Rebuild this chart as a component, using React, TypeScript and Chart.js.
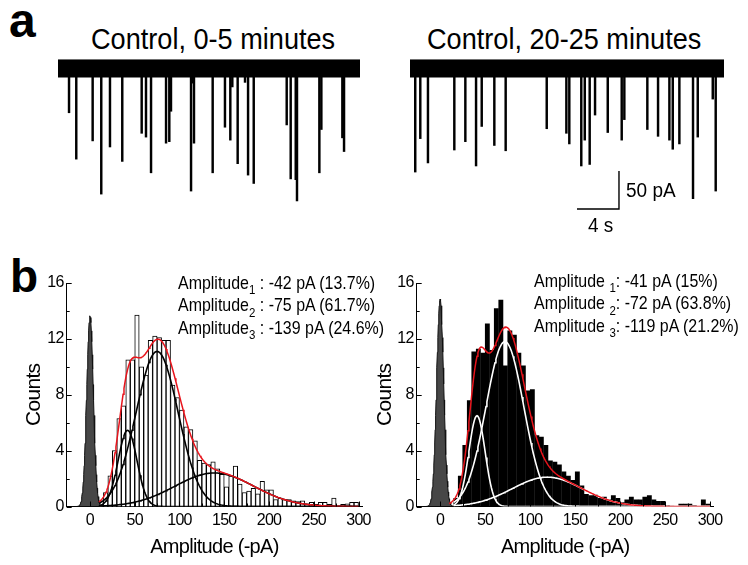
import React, { useEffect, useRef } from "react";
import { Chart, registerables } from "chart.js";

Chart.register(...registerables);

const FONT = '"Liberation Sans", Arial, Helvetica, sans-serif';

// ---------------- Panel a : current traces ----------------
const TRACE_TITLES = ["Control, 0-5 minutes", "Control, 20-25 minutes"];
const TRACE_DURATIONS_S = [28.76, 29.9];
const NOISE_BAND_PA = 11.5;

const TRACE1_EVENT_T = [1.05, 1.74, 3.3, 4.12, 4.95, 6.12, 7.97, 8.38, 8.86, 10.29, 10.6, 10.76, 12.67, 12.8, 12.95, 14.73, 15.9, 16.41, 16.6, 17.11, 17.81, 18.1, 18.64, 21.78, 22.16, 22.64, 22.76, 24.89, 25.08, 27.08, 27.24];
const TRACE1_EVENT_PA = [-58, -119, -95, -165, -103, -122, -85, -90, -137, -98, -96, -56, -161, -19, -98, -137, -77, -94, -24, -125, -18, -140, -151, -74, -145, -146, -174, -137, -80, -91, -109];

const TRACE2_EVENT_T = [0.5, 0.98, 1.71, 4.22, 5.27, 6.29, 6.83, 8.03, 9.11, 13.02, 14.89, 15.17, 16.31, 16.64, 17.11, 17.62, 18.83, 20.16, 20.41, 22.6, 23.62, 24.7, 25.02, 25.65, 26.95, 27.4, 28.83, 29.11];
const TRACE2_EVENT_PA = [-136, -92, -124, -107, -96, -128, -76, -101, -108, -79, -85, -99, -128, -94, -126, -61, -84, -94, -67, -80, -89, -94, -106, -99, -171, -90, -40, -161];

// scale bar: 4 s horizontal, 50 pA vertical (drawn in the right trace)
const SCALE_BAR_T = [15.9, 19.9];
const SCALE_BAR_PA = [-184.6, -134.6];

// ---------------- Panel b : amplitude histograms ----------------
const BIN_WIDTH_PA = 5;
const BIN_STARTS_PA = [10, 15, 20, 25, 30, 35, 40, 45, 50, 55, 60, 65, 70, 75, 80, 85, 90, 95, 100, 105, 110, 115, 120, 125, 130, 135, 140, 145, 150, 155, 160, 165, 170, 175, 180, 185, 190, 195, 200, 205, 210, 215, 220, 225, 230, 235, 240, 245, 250, 255, 260, 265, 270, 275, 280, 285, 290, 295];
const HIST1_COUNTS = [0.4, 1.0, 2.2, 4.0, 6.3, 7.2, 10.5, 10.5, 13.7, 10.0, 9.4, 11.9, 12.2, 12.1, 11.9, 11.9, 8.7, 7.8, 6.9, 5.7, 5.5, 4.7, 3.3, 3.1, 3.0, 3.2, 2.7, 2.3, 1.4, 2.2, 2.9, 1.6, 1.0, 1.1, 1.3, 0.9, 1.8, 1.2, 1.2, 0.5, 0.6, 0.5, 0.5, 0.4, 0.35, 0.4, 0.2, 0.3, 0.15, 0.3, 0.3, 0.15, 0.6, 0, 0.15, 0.2, 0.3, 0.3];
const HIST2_COUNTS = [0, 0.6, 2.2, 4.4, 7.6, 11.1, 11.3, 11.0, 13.1, 11.2, 14.2, 14.8, 10.1, 12.6, 12.3, 11.0, 10.1, 8.3, 8.4, 5.1, 5.0, 4.4, 3.3, 3.2, 3.0, 2.5, 2.2, 1.9, 2.5, 1.5, 0.9, 0.8, 0.85, 0.6, 0.7, 0.5, 0.8, 0.6, 0.3, 0.5, 0.7, 0.5, 0.5, 0.7, 0.8, 0.5, 0.4, 0.4, 0.1, 0.05, 0, 0.2, 0.2, 0.2, 0.1, 0, 0.5, 0.2];

// three-Gaussian fit parameters (mean pA, peak height, width pA)
const FIT1_MEANS = [42, 75, 139];
const FIT1_HEIGHTS = [5.45, 11.1, 2.4];
const FIT1_SIGMAS = [10.5, 23.5, 44];
const FIT2_MEANS = [41, 72, 119];
const FIT2_HEIGHTS = [6.5, 11.8, 2.1];
const FIT2_SIGMAS = [9, 21, 39];
// baseline noise peak (height, width)
const NOISE1 = [13.65, 3.7];
const NOISE2 = [14.85, 3.9];

const FIT1_LABELS = ["-42 pA (13.7%)", "-75 pA (61.7%)", "-139 pA (24.6%)"];
const FIT2_LABELS = ["-41 pA (15%)", "-72 pA (63.8%)", "-119 pA (21.2%)"];

const X_TICKS = [0, 50, 100, 150, 200, 250, 300];
const X_MINOR = [25, 75, 125, 175, 225, 275];
const Y_TICKS = [0, 4, 8, 12, 16];
const Y_MINOR = [2, 6, 10, 14];

const gauss = (x: number, m: number, h: number, s: number) =>
  h * Math.exp(-((x - m) * (x - m)) / (2 * s * s));

const spacingPlugin = {
  id: "spacing",
  beforeDraw(chart: any) {
    chart.ctx.letterSpacing = "-0.7px";
  },
};

const inwardTicks = {
  id: "inwardTicks",
  afterDatasetsDraw(chart: any, _a: any, opts: any) {
    if (!opts || !opts.on) return;
    const { ctx, chartArea } = chart;
    const xs = chart.scales.x;
    const ys = chart.scales.y;
    ctx.save();
    ctx.strokeStyle = "#000";
    ctx.lineWidth = 1;
    ctx.beginPath();
    const yt = (vals: number[], len: number) => {
      for (const v of vals) {
        const p = Math.round(ys.getPixelForValue(v)) + 0.5;
        ctx.moveTo(chartArea.left, p);
        ctx.lineTo(chartArea.left + len, p);
      }
    };
    const xt = (vals: number[], len: number) => {
      for (const v of vals) {
        const p = Math.round(xs.getPixelForValue(v)) + 0.5;
        ctx.moveTo(p, chartArea.bottom);
        ctx.lineTo(p, chartArea.bottom - len);
      }
    };
    yt(Y_TICKS, 5);
    yt(Y_MINOR, 3);
    xt(X_TICKS, 5);
    xt(X_MINOR, 3);
    ctx.stroke();
    ctx.restore();
  },
};

function useChart(make: () => any) {
  const ref = useRef<HTMLCanvasElement | null>(null);
  useEffect(() => {
    if (!ref.current) return;
    const chart = new Chart(ref.current, make());
    return () => chart.destroy();
  }, []);
  return ref;
}

function TraceChart(props: {
  left: number; top: number; width: number; height: number;
  duration: number; times: number[]; amps: number[]; scaleBar: boolean;
}) {
  const { left, top, width, height, duration, times, amps, scaleBar } = props;
  const ref = useChart(() => {
    const datasets: any[] = [
      {
        type: "line",
        data: [
          { x: 0, y: NOISE_BAND_PA },
          { x: duration, y: NOISE_BAND_PA },
        ],
        borderColor: "#000",
        borderWidth: 1,
        backgroundColor: "#000",
        fill: { value: -NOISE_BAND_PA },
        pointRadius: 0,
        order: 2,
      },
      {
        type: "bar",
        data: times.map((t, i) => ({ x: t, y: [-NOISE_BAND_PA + 1, amps[i]] })),
        backgroundColor: "#000",
        borderWidth: 0,
        barThickness: 1.8,
        order: 1,
      },
    ];
    if (scaleBar) {
      datasets.push({
        type: "line",
        data: [
          { x: SCALE_BAR_T[0], y: SCALE_BAR_PA[0] },
          { x: SCALE_BAR_T[1], y: SCALE_BAR_PA[0] },
          { x: SCALE_BAR_T[1], y: SCALE_BAR_PA[1] },
        ],
        borderColor: "#000",
        borderWidth: 1.4,
        pointRadius: 0,
        fill: false,
        order: 0,
      });
    }
    return {
      type: "bar",
      data: { datasets },
      options: {
        animation: false,
        responsive: false,
        events: [],
        layout: { padding: 0 },
        plugins: { legend: { display: false }, tooltip: { enabled: false } },
        scales: {
          x: { type: "linear", display: false, min: 0, max: duration, offset: false },
          y: { type: "linear", display: false, min: -192.5, max: 18 },
        },
      },
    };
  });
  return (
    <canvas
      ref={ref}
      width={width}
      height={height}
      style={{ position: "absolute", left, top, width, height }}
    />
  );
}

type HistProps = {
  left: number; width: number; axisLeft: number; countsPad: number;
  counts: number[]; barFill: string; barBorderWidth: number; barPct: number;
  means: number[]; heights: number[]; sigmas: number[]; fitColor: string; fitStart: number;
  noise: number[];
};

const HIST_TOP = 268;
const HIST_H = 297;
const PLOT_W = 297;

function HistChart(p: HistProps) {
  const ref = useChart(() => {
    const fitXs: number[] = [];
    for (let x = p.fitStart; x <= 300; x += 1) fitXs.push(x);
    const sumXs: number[] = [];
    for (let x = 10; x <= 300; x += 1) sumXs.push(x);
    const noiseXs: number[] = [];
    for (let x = -16; x <= 16; x += 0.5) noiseXs.push(x);

    const comps = p.means.map((m, i) => ({
      type: "line",
      data: fitXs.map((x) => ({ x, y: gauss(x, m, p.heights[i], p.sigmas[i]) })),
      borderColor: p.fitColor,
      borderWidth: 1.6,
      pointRadius: 0,
      fill: false,
      order: 2,
    }));
    const sum = {
      type: "line",
      data: sumXs.map((x) => ({
        x,
        y: p.means.reduce((acc, m, i) => acc + gauss(x, m, p.heights[i], p.sigmas[i]), 0),
      })),
      borderColor: "#e8141c",
      borderWidth: 1.5,
      pointRadius: 0,
      fill: false,
      order: 1,
    };
    const noise = {
      type: "line",
      data: noiseXs.map((x) => ({ x, y: gauss(x, 0, p.noise[0], p.noise[1]) })),
      borderColor: "#111",
      borderWidth: 1,
      backgroundColor: "#474747",
      fill: "origin",
      pointRadius: 0,
      order: 4,
    };
    const bars = {
      type: "bar",
      data: BIN_STARTS_PA.map((b, i) => ({ x: b + BIN_WIDTH_PA / 2, y: p.counts[i] })),
      backgroundColor: p.barFill,
      borderColor: "#000",
      borderWidth: p.barBorderWidth,
      borderSkipped: "bottom",
      barPercentage: p.barPct,
      categoryPercentage: 1,
      order: 5,
    };
    const padRight = p.left + p.width - (p.axisLeft + PLOT_W);
    return {
      type: "bar",
      data: { datasets: [bars, noise, ...comps, sum] },
      plugins: [spacingPlugin, inwardTicks],
      options: {
        animation: false,
        responsive: false,
        events: [],
        layout: { padding: { top: 15, right: padRight, left: 0, bottom: 0 } },
        plugins: {
          legend: { display: false },
          tooltip: { enabled: false },
          inwardTicks: { on: true },
        },
        scales: {
          x: {
            type: "linear",
            min: -26,
            max: 304,
            offset: false,
            afterBuildTicks: (s: any) => {
              s.ticks = X_TICKS.map((v) => ({ value: v }));
            },
            ticks: {
              color: "#000",
              font: { family: FONT, size: 16 },
              padding: 4,
              maxRotation: 0,
              autoSkip: false,
            },
            grid: { display: false, drawTicks: false, offset: false },
            border: { display: true, color: "#000", width: 1 },
            title: {
              display: true,
              text: "Amplitude (-pA)",
              color: "#000",
              font: { family: FONT, size: 20 },
              padding: { top: 0, bottom: 6 },
            },
            afterFit: (s: any) => {
              s.height = 58.5;
            },
          },
          y: {
            type: "linear",
            min: 0,
            max: 16,
            ticks: {
              stepSize: 4,
              color: "#000",
              font: { family: FONT, size: 16 },
              padding: 3,
            },
            grid: { display: false, drawTicks: false },
            border: { display: true, color: "#000", width: 1 },
            title: {
              display: true,
              text: "Counts",
              color: "#000",
              font: { family: FONT, size: 21 },
              padding: { top: p.countsPad, bottom: 0 },
            },
            afterFit: (s: any) => {
              s.width = p.axisLeft - p.left;
            },
          },
        },
      },
    };
  });
  return (
    <canvas
      ref={ref}
      width={p.width}
      height={HIST_H}
      style={{ position: "absolute", left: p.left, top: HIST_TOP, width: p.width, height: HIST_H }}
    />
  );
}

function Txt(props: {
  x: number; base: number; size: number; sx?: number; bold?: boolean; children: any;
}) {
  const { x, base, size, sx = 1, bold } = props;
  return (
    <div
      style={{
        position: "absolute",
        left: x,
        top: base - 0.8465 * size,
        fontFamily: FONT,
        fontSize: size,
        fontWeight: bold ? 700 : 400,
        lineHeight: 1,
        whiteSpace: "nowrap",
        color: "#000",
        transform: `scaleX(${sx})`,
        transformOrigin: "left top",
      }}
    >
      {props.children}
    </div>
  );
}

const Sub = (props: { children: any }) => (
  <span style={{ fontSize: "0.72em", position: "relative", top: "0.38em" }}>{props.children}</span>
);

export default function App() {
  const annBase1 = [289, 311.5, 334];
  const annBase2 = [287, 309.5, 332];
  return (
    <div
      style={{
        position: "absolute",
        left: 0,
        top: 0,
        width: 748,
        height: 565,
        background: "#fff",
        overflow: "hidden",
      }}
    >
      <Txt x={9} base={38} size={48} bold>a</Txt>
      <Txt x={10} base={292} size={46} bold>b</Txt>
      <Txt x={91} base={50} size={29} sx={0.935}>{TRACE_TITLES[0]}</Txt>
      <Txt x={427} base={50} size={29} sx={0.935}>{TRACE_TITLES[1]}</Txt>

      <TraceChart left={58} top={55} width={302} height={160} duration={TRACE_DURATIONS_S[0]}
        times={TRACE1_EVENT_T} amps={TRACE1_EVENT_PA} scaleBar={false} />
      <TraceChart left={410} top={55} width={314} height={160} duration={TRACE_DURATIONS_S[1]}
        times={TRACE2_EVENT_T} amps={TRACE2_EVENT_PA} scaleBar={true} />

      <Txt x={626} base={197} size={20} sx={0.95}>50 pA</Txt>
      <Txt x={588} base={232} size={20} sx={0.95}>4 s</Txt>

      <HistChart left={0} width={376} axisLeft={66.7} countsPad={22}
        counts={HIST1_COUNTS} barFill="#fff" barBorderWidth={1} barPct={1}
        means={FIT1_MEANS} heights={FIT1_HEIGHTS} sigmas={FIT1_SIGMAS}
        fitColor="#000" fitStart={10} noise={NOISE1} />
      <HistChart left={354} width={394} axisLeft={416.7} countsPad={19}
        counts={HIST2_COUNTS} barFill="#000" barBorderWidth={0} barPct={1.08}
        means={FIT2_MEANS} heights={FIT2_HEIGHTS} sigmas={FIT2_SIGMAS}
        fitColor="#fff" fitStart={15} noise={NOISE2} />

      {FIT1_LABELS.map((t, i) => (
        <Txt key={"l" + i} x={178} base={annBase1[i]} size={19} sx={0.84}>
          Amplitude<Sub>{i + 1}</Sub> : {t}
        </Txt>
      ))}
      {FIT2_LABELS.map((t, i) => (
        <Txt key={"r" + i} x={534} base={annBase2[i]} size={19} sx={0.84}>
          Amplitude <Sub>{i + 1}</Sub>: {t}
        </Txt>
      ))}
    </div>
  );
}
